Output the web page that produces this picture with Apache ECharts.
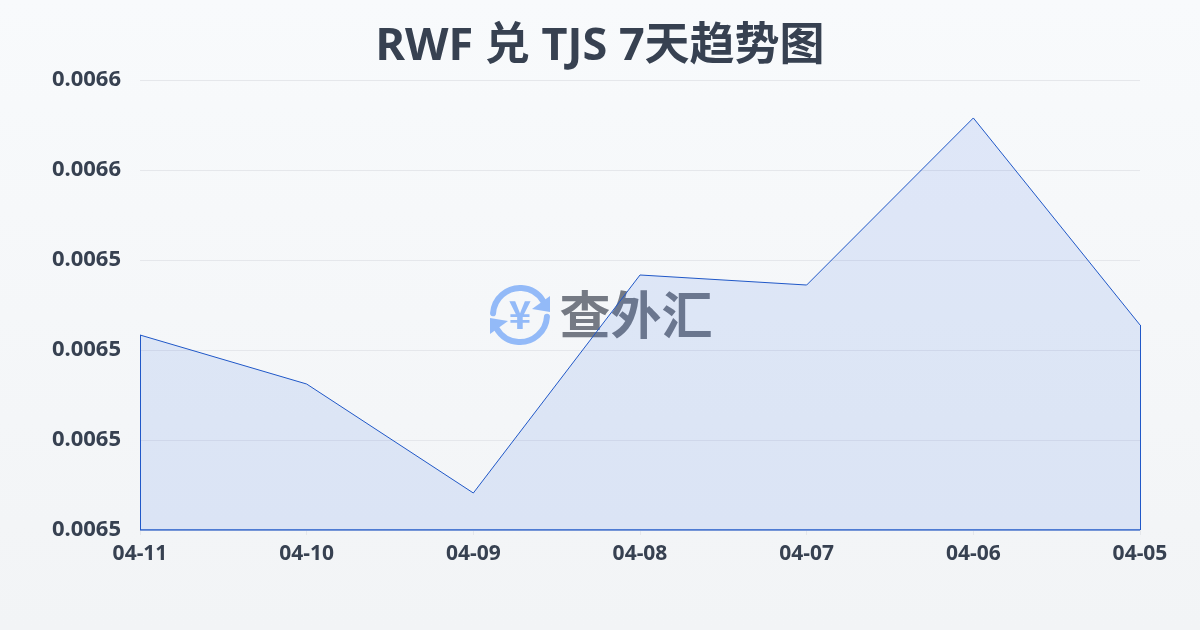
<!DOCTYPE html>
<html>
<head>
<meta charset="utf-8">
<style>html,body{margin:0;padding:0;width:1200px;height:630px;overflow:hidden}#c{width:1200px;height:630px}</style>
<script src="https://cdn.jsdelivr.net/npm/echarts@6/dist/echarts.min.js"></script>
</head>
<body>
<div id="c"></div>
<script>
const titleText = 'RWF 兑 TJS 7天趋势图';
const categories = ['04-11','04-10','04-09','04-08','04-07','04-06','04-05'];
const rates = [0.00652333,0.00651244,0.00648822,0.00653667,0.00653444,0.00657156,0.00652556];
const yMin = 0.00648, yMax = 0.00658, yStep = 0.00002;
const baseline = categories.map(() => yMin);
const FONT = '"Noto Sans","Noto Sans CJK SC",sans-serif';
const CJK = '"Noto Sans CJK SC",sans-serif';
const BLUE = '#2058c8';
const ICON = '#93baf8';
const chart = echarts.init(document.getElementById('c'), null, {renderer:'canvas'});
const arrow = (pts) => ({type:'polygon', shape:{points:pts}, style:{fill:ICON}, silent:true, z:0});
chart.setOption({
  animation:false,
  backgroundColor:{type:'linear',x:0,y:0,x2:0,y2:1,colorStops:[{offset:0,color:'#f8fafc'},{offset:1,color:'#f2f4f6'}]},
  title:{text:titleText,left:'center',top:20,textStyle:{fontFamily:FONT,fontSize:45,fontWeight:'bold',color:'#374151'}},
  grid:{left:140,right:60,top:80,bottom:100},
  graphic:[
    {type:'arc',shape:{cx:520,cy:315,r:27,startAngle:Math.PI*1.02,endAngle:Math.PI*1.83},style:{stroke:ICON,lineWidth:6,fill:null,lineCap:'round'},silent:true,z:0},
    {type:'arc',shape:{cx:520,cy:315,r:27,startAngle:Math.PI*0.02,endAngle:Math.PI*0.83},style:{stroke:ICON,lineWidth:6,fill:null,lineCap:'round'},silent:true,z:0},
    arrow([[550,296],[550,312],[532,309]]),
    arrow([[490,334],[490,318],[508,321]]),
    {type:'text',style:{x:520,y:315,text:'¥',fontFamily:CJK,fontSize:38,fontWeight:'bold',fill:ICON,align:'center',verticalAlign:'middle'},silent:true,z:0},
    {type:'text',style:{x:636,y:315,text:'查外汇',fontFamily:CJK,fontSize:51,fontWeight:'bold',fill:'#757a84',align:'center',verticalAlign:'middle'},silent:true,z:0}
  ],
  xAxis:{type:'category',data:categories,boundaryGap:false,
    axisLine:{show:false},
    axisTick:{show:true,length:5,lineStyle:{color:'#e5e7eb'}},
    axisLabel:{interval:0,margin:14,fontFamily:FONT,fontSize:21,fontWeight:'bold',color:'#374151',hideOverlap:false},
    splitLine:{show:false}},
  yAxis:{type:'value',min:yMin,max:yMax,interval:yStep,
    axisLine:{show:false},axisTick:{show:false},
    axisLabel:{margin:19,fontFamily:FONT,fontSize:22,fontWeight:'bold',color:'#374151',formatter:v=>v.toFixed(4),verticalAlignMinLabel:'middle',verticalAlignMaxLabel:'middle'},
    splitLine:{show:true,lineStyle:{color:'#e5e7eb',width:1}}},
  series:[
    {name:'rate',type:'line',data:rates,z:3,symbol:'none',showSymbol:false,smooth:false,
      lineStyle:{color:BLUE,width:1},
      areaStyle:{origin:'start',color:'rgba(37,99,225,0.16)'},
      markLine:{silent:true,symbol:'none',label:{show:false},emphasis:{disabled:true},animation:false,
        lineStyle:{color:BLUE,width:1,type:'solid'},
        data:[
          [{coord:[categories[0],yMin]},{coord:[categories[0],rates[0]]}],
          [{coord:[categories[6],yMin]},{coord:[categories[6],rates[6]]}]
        ]}
    },
    {name:'base',type:'line',data:baseline,z:3,symbol:'none',showSymbol:false,lineStyle:{color:BLUE,width:1.5}}
  ]
});
</script>
</body>
</html>
